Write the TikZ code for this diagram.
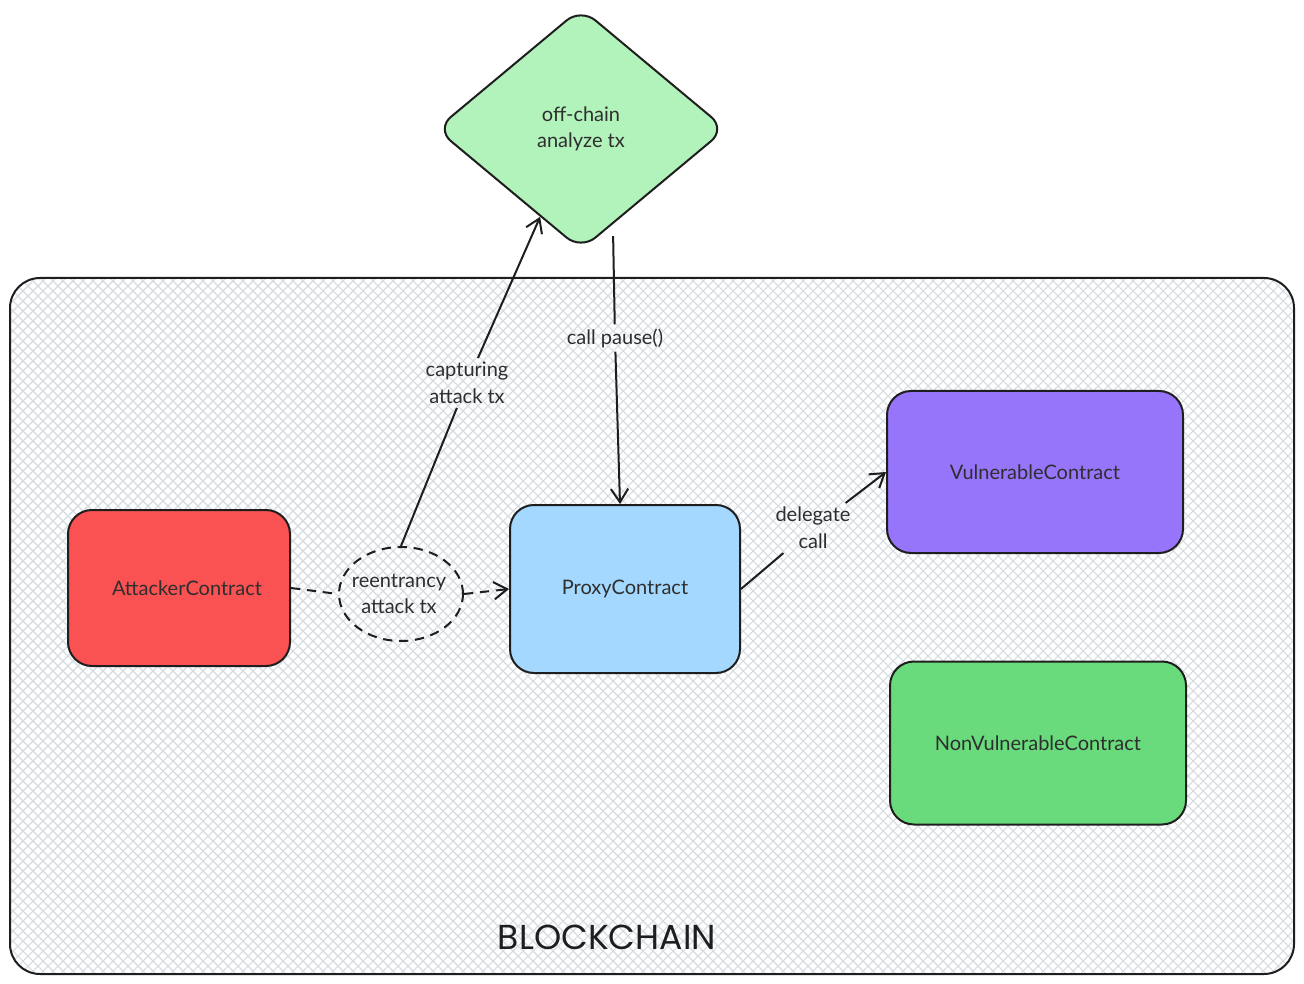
\documentclass[tikz,border=0pt]{standalone}
\usepackage{fontspec}
\setmainfont{Lato}
\newfontfamily\handfont{Poppins}
\usetikzlibrary{shapes.geometric,arrows.meta,calc}
\definecolor{ink}{HTML}{1E1E1E}
\definecolor{txt}{HTML}{2E2E2E}
\definecolor{hatchc}{HTML}{D5DBE1}
\definecolor{redc}{HTML}{FA5252}
\definecolor{bluec}{HTML}{A5D8FF}
\definecolor{violetc}{HTML}{9775FA}
\definecolor{greenc}{HTML}{69DB7C}
\definecolor{lgreenc}{HTML}{B2F2BB}
\tikzset{
  box/.style={rectangle, rounded corners=18pt, draw=ink, line width=1.5pt, text=txt,
    font=\fontsize{15}{19}\selectfont, align=center},
  lbl/.style={text=txt, font=\fontsize{15}{20}\selectfont, align=center, inner sep=3pt},
  conn/.style={draw=ink, line width=1.5pt},
  tip/.style={-{Straight Barb[length=10pt,width=13pt,line width=1.5pt]}},
  dashedline/.style={dash pattern=on 7pt off 5pt},
  hatch/.style={draw=hatchc, line width=0.8pt},
}
\begin{document}
\begin{tikzpicture}[x=0.75pt,y=-0.75pt]
\useasboundingbox (0,0) rectangle (1304,984);
% container hatch
\begin{scope}
  \clip[rounded corners=22.5pt] (10,278) rectangle (1294,974);
  \foreach \c in {-700,-690,...,1300} {
    \draw[hatch] (\c,278) -- ++(696,696);
    \draw[hatch] (\c,974) -- ++(696,-696);
  }
\end{scope}
\node[rectangle, rounded corners=22.5pt, draw=ink, line width=1.5pt,
  minimum width=1284*0.75pt, minimum height=696*0.75pt, inner sep=0pt] (chain) at (652,626) {};
\node[text=ink, font=\handfont\fontsize{26}{30}\selectfont] (chainlbl) at (607,937) {BLOCKCHAIN};

% nodes
\node[diamond, aspect=1.2, rounded corners=14pt, draw=ink, line width=1.5pt, fill=lgreenc,
  text=txt, font=\fontsize{15}{20}\selectfont, align=center, inner sep=0pt,
  minimum width=290*0.75pt, minimum height=242*0.75pt] (dia) at (581,129) {off-chain\\analyze tx};
\node[box, fill=redc, minimum width=222*0.75pt, minimum height=156*0.75pt] (att) at (179,588) {\hspace*{12pt}AttackerContract};
\node[box, fill=bluec, minimum width=230*0.75pt, minimum height=168*0.75pt] (proxy) at (625,589) {ProxyContract};
\node[box, fill=violetc, minimum width=296*0.75pt, minimum height=162*0.75pt] (vuln) at (1035,472) {VulnerableContract};
\node[box, fill=greenc, minimum width=296*0.75pt, minimum height=163*0.75pt] (nonvuln) at (1038,743) {NonVulnerableContract};
\node[ellipse, draw=ink, line width=1.5pt, dashedline, minimum width=124*0.75pt, minimum height=94*0.75pt,
  inner sep=0pt] (ell) at (401,594) {};
\node[lbl] (elllbl) at (399,594) {reentrancy\\attack tx};

% labels
\node[lbl] (caplbl) at (467,383) {capturing\\ attack tx};
\node[lbl] (pauselbl) at (615,338) {call pause()};
\node[lbl] (dellbl) at (813,528) {delegate\\call};

% connectors
\draw[conn, dashedline] (att.east) -- (ell.west);
\draw[conn, dashedline, tip] (ell.east) -- (proxy.west);

\coordinate (capend) at ($(dia.south)!0.28!(dia.west)$);
\draw[conn] (ell.north) -- (caplbl);
\draw[conn, tip] (caplbl) -- (capend);

\coordinate (pausestart) at ($(dia.south)!0.22!(dia.east)+(0,12)$);
\coordinate (pauseend) at ($(proxy.north)+(-5,0)$);
\draw[conn] (pausestart) -- (pauselbl);
\draw[conn, tip] (pauselbl) -- (pauseend);

\draw[conn] (proxy.east) -- (dellbl);
\draw[conn, tip] (dellbl) -- (vuln.west);
\end{tikzpicture}
\end{document}
